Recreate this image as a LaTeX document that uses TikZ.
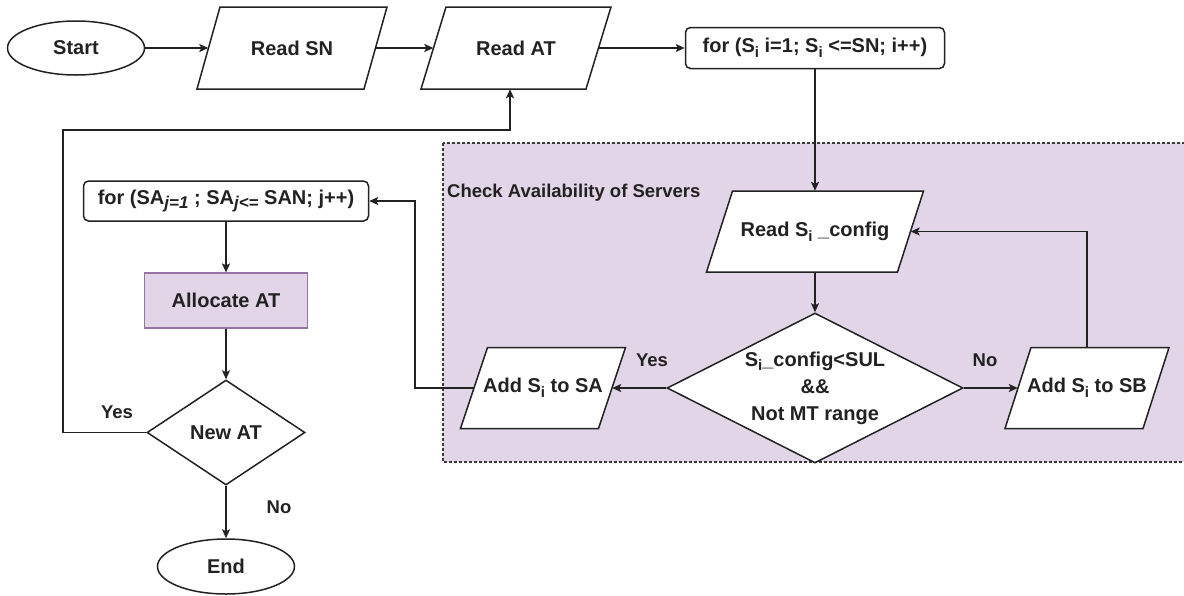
\documentclass[tikz,border=0pt]{standalone}
\usepackage{fontspec}
\setmainfont{Liberation Sans}
\usetikzlibrary{shapes.geometric,arrows.meta}

\definecolor{regionfill}{HTML}{E1D5E7}
\definecolor{regionedge}{HTML}{3A3A3A}
\definecolor{allocedge}{HTML}{9673A6}
\definecolor{ink}{HTML}{222222}

% lowered subscripts used in the labels
\newcommand\si{\raisebox{-0.45ex}{\fontsize{15}{15}\selectfont i}}
\newcommand\sj[1]{\raisebox{-0.35ex}{\fontsize{17}{17}\selectfont\itshape #1}}

\tikzset{
  base/.style={font=\fontsize{20}{27}\selectfont\bfseries, text=ink, inner sep=0pt},
  shapeline/.style={draw=ink, line width=1.5pt, fill=white},
  terminal/.style={base, shapeline, ellipse, minimum width=137pt, minimum height=54pt},
  loopbox/.style={base, shapeline, rounded corners=5pt, minimum height=41pt},
  decision/.style={base, shapeline, diamond, align=center},
  procbox/.style={base, draw=allocedge, fill=regionfill, line width=1.2pt},
  iotext/.style={base},
  lbl/.style={font=\fontsize{18.5}{22}\selectfont\bfseries, text=ink, inner sep=0pt},
  flow/.style={draw=ink, line width=1.5pt, -{Stealth[length=9pt,width=8pt,inset=2pt]}},
}

% input/output parallelogram: name, centre x, centre y, mid width, height, slant, text
\newcommand\ionode[7]{%
  \filldraw[shapeline] (#2-#4/2+#6/2,#3-#5/2) -- (#2+#4/2+#6/2,#3-#5/2)
    -- (#2+#4/2-#6/2,#3+#5/2) -- (#2-#4/2-#6/2,#3+#5/2) -- cycle;
  \node[iotext, minimum width=#4pt, minimum height=#5pt] (#1) at (#2,#3) {#7};
}

\begin{document}
\begin{tikzpicture}[x=1pt,y=-1pt]
\useasboundingbox (0,0) rectangle (1184,595);
\fill[white] (0,0) rectangle (1184,595);

% server availability group
\filldraw[fill=regionfill, draw=regionedge, line width=1.2pt, dash pattern=on 3pt off 2pt]
  (443,143) rectangle (1195,462);
\node[lbl, anchor=west] (grp) at (447,193) {Check Availability of Servers};

% top row
\node[terminal] (start) at (76,48) {Start};
\ionode{readsn}{292}{48}{167}{82}{23}{Read SN}
\ionode{readat}{516}{48}{165}{82}{25}{Read AT}
\node[loopbox, minimum width=259pt] (fors) at (815,48) {for (S\si{} i=1; S\si{} <=SN; i++)};

% server check
\ionode{readcfg}{815}{231.5}{191}{81}{26}{Read S\si{} \_config}
\node[decision, shape aspect=1.97, minimum width=296pt, minimum height=150pt] (cond) at (815,388)
  {S\si\_config<SUL\\\&\&\\Not MT range};
\ionode{addsa}{543}{388}{138}{81}{27}{Add S\si{} to SA}
\ionode{addsb}{1087}{388}{138}{81}{26}{Add S\si{} to SB}

% allocation column
\node[loopbox, minimum width=285pt, minimum height=40pt] (forsa) at (226,201)
  {for (SA\sj{j=1} ; SA\sj{j<=} SAN; j++)};
\node[procbox, minimum width=163pt, minimum height=55pt] (alloc) at (226,300.5) {Allocate AT};
\node[decision, shape aspect=1.5, minimum width=158pt, minimum height=105pt] (newat) at (226,432.5) {New AT};
\node[terminal, minimum height=55pt] (end) at (226,566.5) {End};

% connectors
\draw[flow] (start.east) -- (readsn.west);
\draw[flow] (readsn.east) -- (readat.west);
\draw[flow] (readat.east) -- (fors.west);
\draw[flow] (fors.south) -- (readcfg.north);
\draw[flow] (readcfg.south) -- (cond.north);
\draw[flow] (cond.west) -- (addsa.east);
\draw[flow] (cond.east) -- (addsb.west);
\draw[flow] (addsb.north) |- (readcfg.east);

\coordinate (back) at (415,0);
\draw[flow] (addsa.west) -- (addsa.west -| back) -- (back |- forsa.east) -- (forsa.east);

\draw[flow] (forsa.south) -- (alloc.north);
\draw[flow] (alloc.south) -- (newat.north);
\draw[flow] (newat.south) -- (end.north);

\coordinate (loopcorner) at (63,130);
\coordinate (atin) at ([xshift=-6pt]readat.south);
\draw[flow] (newat.west) -| (loopcorner) -| (atin);

% branch labels
\node[lbl] (yes1) at (652,360) {Yes};
\node[lbl] (no1) at (985,360) {No};
\node[lbl] (yes2) at (117,412) {Yes};
\node[lbl] (no2) at (279,507) {No};
\end{tikzpicture}
\end{document}
